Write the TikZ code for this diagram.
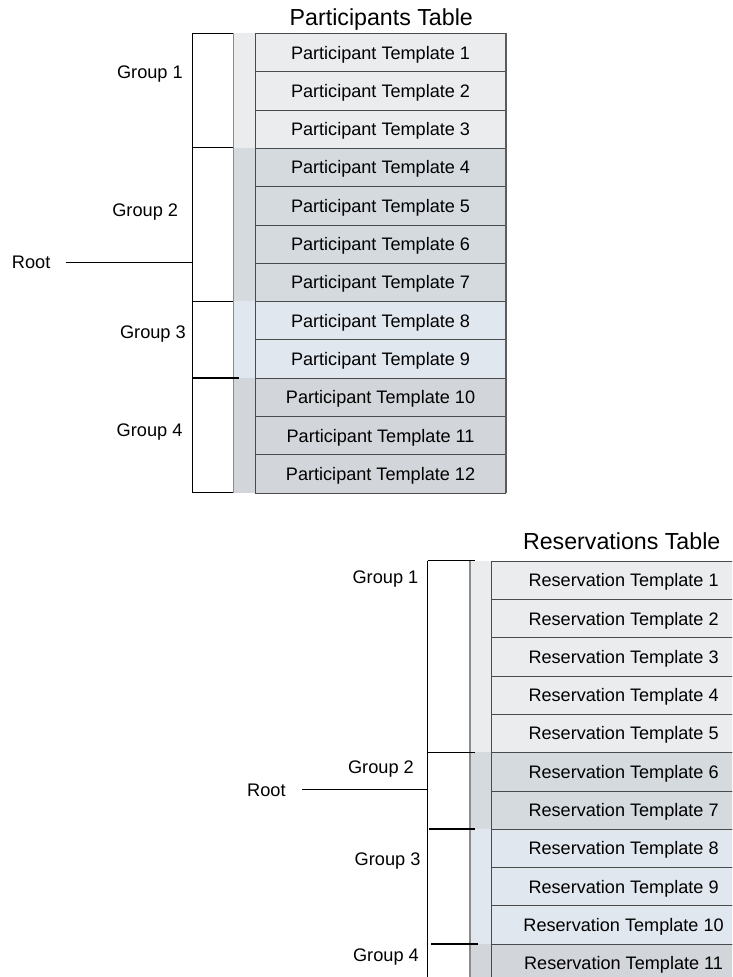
\documentclass[tikz,border=0pt]{standalone}
\usepackage{fontspec}
\setmainfont{Liberation Sans}
\usetikzlibrary{positioning}
\definecolor{grpone}{HTML}{EBECEE}
\definecolor{grptwo}{HTML}{D5DADF}
\definecolor{grpthree}{HTML}{E1E7EF}
\definecolor{grpfour}{HTML}{D2D5D9}
\definecolor{rowedge}{HTML}{4A4A4A}
\definecolor{stripedge}{HTML}{8C8C8C}
\definecolor{shadeedge}{HTML}{5C5C5C}
\tikzset{
    table diagram/.style = {x=1pt, y=-1pt},
    tmplcell/.style      = {draw=rowedge, line width=0.8pt, inner sep=0pt,
                            anchor=north west, minimum height=\rowh pt,
                            text height=13pt, text depth=0pt,
                            font=\fontsize{18.1}{21}\selectfont},
    ptmpl/.style         = {tmplcell, minimum width=249.7pt},
    rtmpl/.style         = {tmplcell, minimum width=265pt},
    grouplabel/.style    = {inner sep=0pt, anchor=east,
                            text height=13pt, text depth=0pt,
                            font=\fontsize{18.2}{21}\selectfont},
    rootlabel/.style     = {grouplabel, anchor=west},
    tabletitle/.style    = {inner sep=0pt, anchor=base,
                            font=\fontsize{23.2}{27}\selectfont},
    bracket/.style       = {draw=black, line width=0.9pt},
    heavy tick/.style    = {draw=black, line width=1.8pt},
    strip edge/.style    = {draw=stripedge, line width=1.6pt}
}
\def\rowh{38.3}
\def\ptop{33}
\def\rtop{560.7}

\begin{document}
\begin{tikzpicture}[table diagram]
\useasboundingbox (0,0) rectangle (732,977);
\clip (0,0) rectangle (732,977);

% Participants table: group strips, then the template rows.
\node[tabletitle] (ptitle) at (381.3,25) {Participants Table};
\foreach \a/\b/\grp in {0/3/grpone,3/7/grptwo,7/9/grpthree,9/12/grpfour}
    \fill[\grp] (232.5,{\ptop+\a*\rowh}) rectangle (255.3,{\ptop+\b*\rowh});
\draw[strip edge] (233.3,\ptop) -- (233.3,{\ptop+12*\rowh});
\foreach \i/\grp in {1/grpone,2/grpone,3/grpone,4/grptwo,5/grptwo,6/grptwo,
                     7/grptwo,8/grpthree,9/grpthree,10/grpfour,11/grpfour,
                     12/grpfour}
    \node[ptmpl, fill=\grp] (ptmpl\i) at (255.3,{\ptop+(\i-1)*\rowh})
        {Participant Template \i};
\draw[shadeedge, line width=2pt] (ptmpl1.north east) -- (ptmpl12.south east);

% Participants grouping bracket.
\draw[bracket] (192,\ptop) -- (192,{\ptop+12*\rowh});
\draw[bracket] (192,\ptop) -- (232.5,\ptop);
\draw[bracket] (192,{\ptop+3*\rowh}) -- (232.5,{\ptop+3*\rowh});
\draw[bracket] (192,{\ptop+7*\rowh}) -- (233,{\ptop+7*\rowh});
\draw[heavy tick] (192,{\ptop+9*\rowh}) -- (239,{\ptop+9*\rowh});
\draw[bracket] (192,{\ptop+12*\rowh}) -- (232.5,{\ptop+12*\rowh});
\node[grouplabel] (pgrp1) at (183,72) {Group 1};
\node[grouplabel] (pgrp2) at (178.3,209.5) {Group 2};
\node[grouplabel] (pgrp3) at (186,331.5) {Group 3};
\node[grouplabel] (pgrp4) at (182.7,429.7) {Group 4};
\node[rootlabel] (proot) at (11.7,262) {Root};
\coordinate (prootjoin) at (192,262);
\draw[bracket] ([xshift=15pt]proot.east) -- (prootjoin);

% Reservations table, cut off at the right and bottom.
\node[tabletitle] (rtitle) at (621.7,549) {Reservations Table};
\foreach \a/\b/\grp in {0/5/grpone,5/7/grptwo,7/10/grpthree,10/11/grpfour}
    \fill[\grp] (469.3,{\rtop+\a*\rowh}) rectangle (490.7,{\rtop+\b*\rowh});
\draw[strip edge] (470.1,\rtop) -- (470.1,{\rtop+11*\rowh});
\foreach \i/\grp in {1/grpone,2/grpone,3/grpone,4/grpone,5/grpone,6/grptwo,
                     7/grptwo,8/grpthree,9/grpthree,10/grpthree,11/grpfour}
    \node[rtmpl, fill=\grp] (rtmpl\i) at (490.7,{\rtop+(\i-1)*\rowh})
        {Reservation Template \i};

% Reservations grouping bracket.
\draw[bracket] (427.5,\rtop) -- (427.5,980);
\draw[bracket] (427.5,\rtop) -- (475,\rtop);
\draw[bracket] (427.5,{\rtop+5*\rowh}) -- (475,{\rtop+5*\rowh});
\draw[heavy tick] (429,{\rtop+7*\rowh}) -- (475,{\rtop+7*\rowh});
\draw[heavy tick] (431,{\rtop+10*\rowh}) -- (478,{\rtop+10*\rowh});
\node[grouplabel] (rgrp1) at (418.5,577) {Group 1};
\node[grouplabel] (rgrp2) at (414,766.5) {Group 2};
\node[grouplabel] (rgrp3) at (420.7,859) {Group 3};
\node[grouplabel] (rgrp4) at (419,955) {Group 4};
\node[rootlabel] (rroot) at (247,789.5) {Root};
\coordinate (rrootjoin) at (427.5,789.5);
\draw[bracket] ([xshift=16pt]rroot.east) -- (rrootjoin);

\end{tikzpicture}
\end{document}
